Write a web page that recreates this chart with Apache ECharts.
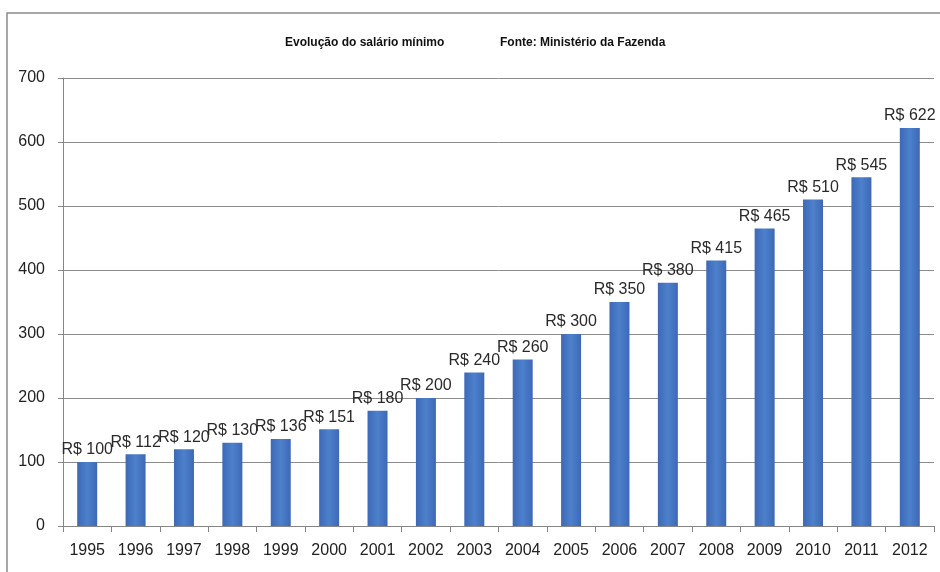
<!DOCTYPE html>
<html><head><meta charset="utf-8">
<script src="https://cdn.jsdelivr.net/npm/echarts@6/dist/echarts.min.js"></script>
<style>html,body{margin:0;padding:0;background:#fff}#c{width:940px;height:572px}</style>
</head><body><div id="c"></div>
<script>
const years = ['1995','1996','1997','1998','1999','2000','2001','2002','2003','2004','2005','2006','2007','2008','2009','2010','2011','2012'];
const salario = [100,112,120,130,136,151,180,200,240,260,300,350,380,415,465,510,545,622];
const titleText = 'Evolução do salário mínimo';
const sourceText = 'Fonte: Ministério da Fazenda';
const font = '"Liberation Sans",sans-serif';

const chart = echarts.init(document.getElementById('c'), null, {renderer:'canvas'});
chart.setOption({
  animation:false,
  graphic:[
    {type:'rect', shape:{x:7,y:13,width:960,height:600}, style:{fill:'none', stroke:'#8a8a8a', lineWidth:1.5}, z:-1},
    {type:'text', left:285, top:37, style:{text:titleText, font:'bold 12px '+font, fill:'#111'}},
    {type:'text', left:500, top:37, style:{text:sourceText, font:'bold 12px '+font, fill:'#111'}}
  ],
  grid:{left:63, right:6, top:78, bottom:46},
  xAxis:{type:'category', data:years,
    axisLine:{lineStyle:{color:'#868686'}},
    axisTick:{show:true, length:6, lineStyle:{color:'#868686'}},
    axisLabel:{color:'#222', fontSize:16, fontFamily:font, margin:17}},
  yAxis:{type:'value', min:0, max:700, interval:100,
    axisLine:{show:true, lineStyle:{color:'#868686'}},
    axisTick:{show:true, length:5, lineStyle:{color:'#868686'}},
    splitLine:{lineStyle:{color:'#8c8c8c'}},
    axisLabel:{color:'#222', fontSize:16, fontFamily:font, margin:18}},
  series:[{type:'bar', data:salario, barWidth:20,
    itemStyle:{color:new echarts.graphic.LinearGradient(0,0,1,0,[
      {offset:0,color:'#3d69b6'},{offset:0.5,color:'#4d80cc'},{offset:1,color:'#3d69b6'}])},
    label:{show:true, position:'top', distance:4, color:'#2a2a2a', fontSize:16, fontFamily:font,
      formatter:p=>'R$ '+p.value}}]
});
</script></body></html>
